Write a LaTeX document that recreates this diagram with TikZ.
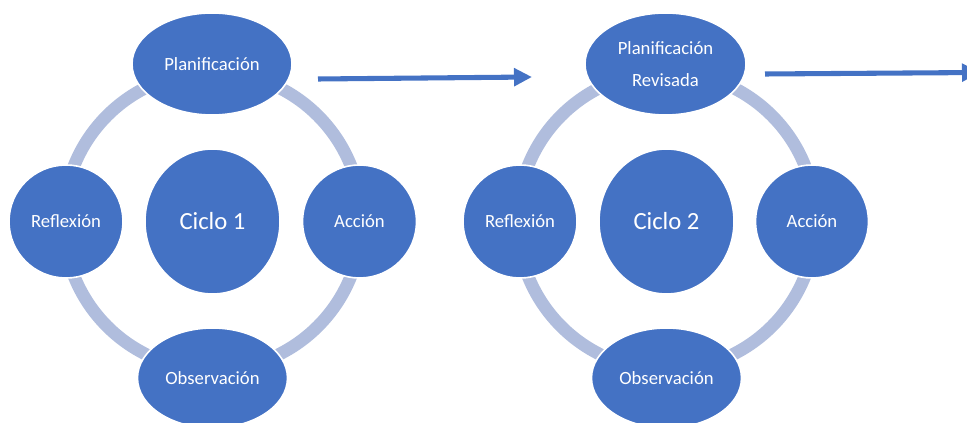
\documentclass[tikz,border=0pt]{standalone}
\usepackage{fontspec}
\setmainfont{Carlito}
\usetikzlibrary{shapes.geometric,arrows.meta}
\definecolor{nodeblue}{HTML}{4472C4}
\definecolor{ringblue}{HTML}{B0BDDD}
\tikzset{
  stage/.style={ellipse, fill=nodeblue, draw=white, line width=1.2pt, text=white, inner sep=0pt, font=\fontsize{14}{17}\selectfont, align=center},
  ring/.style={draw=ringblue, line width=9.5pt},
  flow/.style={draw=nodeblue, line width=3.8pt, -{Triangle[length=13.5pt,width=13pt]}}
}
\begin{document}
\begin{tikzpicture}[x=0.75pt,y=-0.75pt]
\useasboundingbox (0,0) rectangle (967,423);
\clip (0,0) rectangle (967,423);
% Cycle 1
\draw[ring] (212.5,221) circle[radius=149];
\node[stage, minimum width=135*0.75pt, minimum height=145*0.75pt, font=\fontsize{18.5}{22}\selectfont] (c1) at (212.5,221.5) {Ciclo 1};
\node[stage, minimum width=160*0.75pt, minimum height=102*0.75pt] (p1) at (212,64) {Planificación};
\node[stage, minimum width=114*0.75pt, minimum height=113*0.75pt] (r1) at (66,221.5) {Reflexión};
\node[stage, minimum width=114*0.75pt, minimum height=113*0.75pt] (a1) at (359.5,221.5) {Acción};
\node[stage, minimum width=150*0.75pt, minimum height=100*0.75pt] (o1) at (212.5,378) {Observación};
% Cycle 2
\draw[ring] (666.5,221) circle[radius=149];
\node[stage, minimum width=135*0.75pt, minimum height=145*0.75pt, font=\fontsize{18.5}{22}\selectfont] (c2) at (666.5,221.5) {Ciclo 2};
\node[stage, minimum width=161*0.75pt, minimum height=102*0.75pt, font=\fontsize{14}{24}\selectfont] (p2) at (665.5,64) {Planificación\\Revisada};
\node[stage, minimum width=114*0.75pt, minimum height=113*0.75pt] (r2) at (520,221.5) {Reflexión};
\node[stage, minimum width=113*0.75pt, minimum height=113*0.75pt] (a2) at (812,221.5) {Acción};
\node[stage, minimum width=150*0.75pt, minimum height=100*0.75pt] (o2) at (666.5,378) {Observación};
% Arrows
\coordinate (s1) at (318,79);
\coordinate (e1) at (532,77);
\coordinate (s2) at (765,74);
\coordinate (e2) at (980,72.5);
\draw[flow] (s1) -- (e1);
\draw[flow] (s2) -- (e2);
\end{tikzpicture}
\end{document}
